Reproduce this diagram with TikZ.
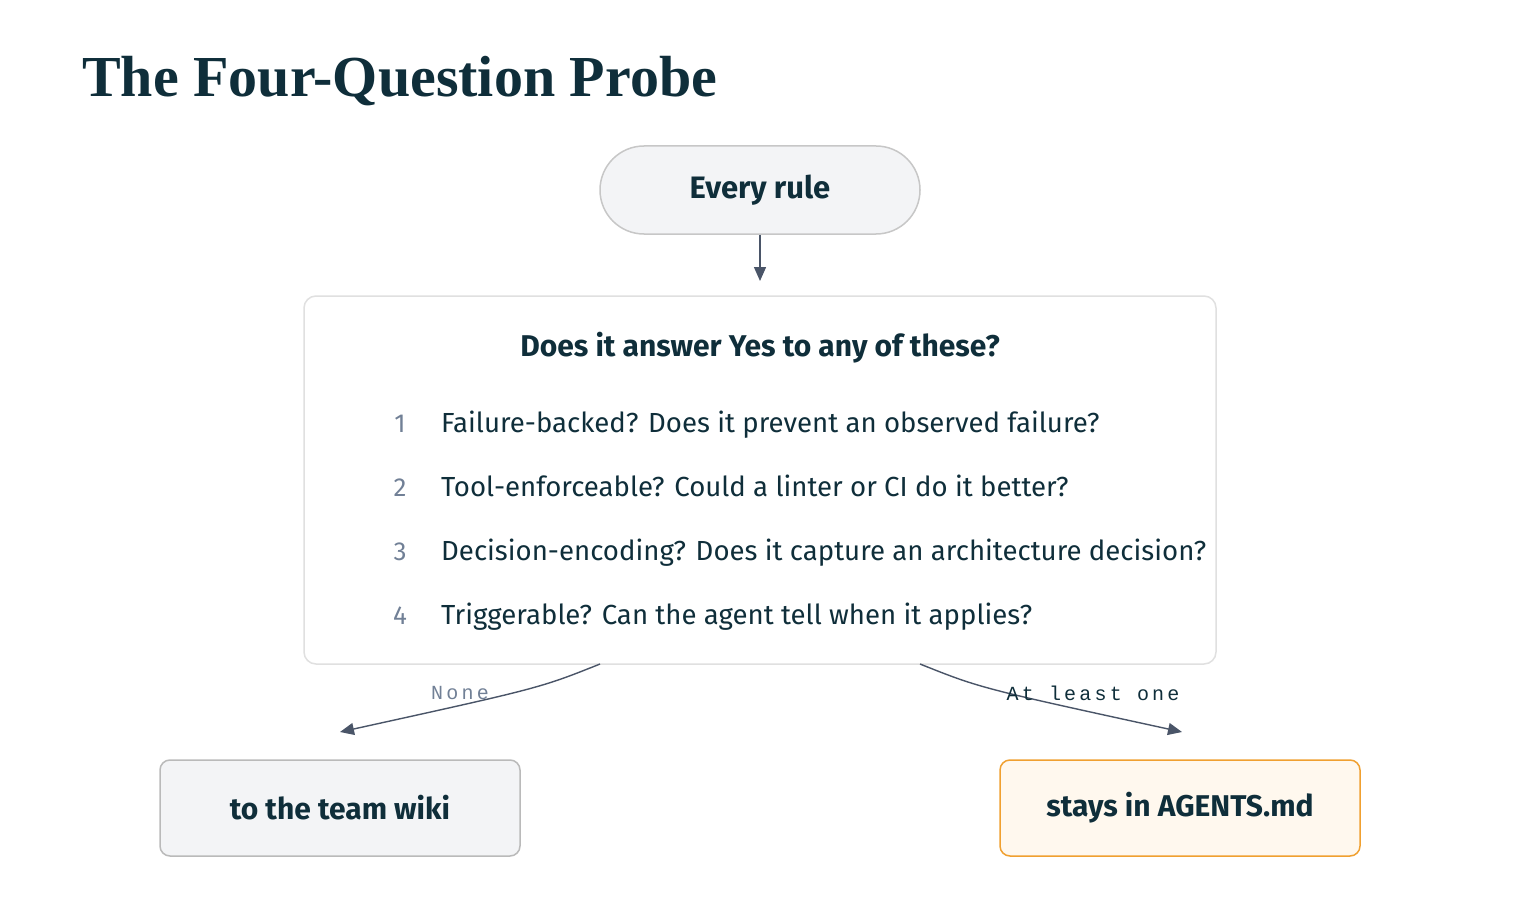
\documentclass[tikz,border=0pt]{standalone}
\usepackage{fontspec}
\setmainfont{Fira Sans}
\newfontfamily\titlefont{Liberation Serif}
\newfontfamily\monofont[LetterSpace=16]{Liberation Mono}
\usetikzlibrary{arrows.meta}
\definecolor{ink}{HTML}{0F2E3A}
\definecolor{arrowc}{HTML}{4A5568}
\definecolor{graytxt}{HTML}{718096}
\definecolor{pillfill}{HTML}{F3F4F6}
\definecolor{orangeb}{HTML}{F0A030}
\definecolor{orangef}{HTML}{FFF8EE}
\tikzset{
  x=1pt,y=-1pt,
  box/.style={draw,rounded corners=10pt,line width=1.5pt,minimum width=360pt,minimum height=96pt,font=\fontsize{30}{36}\selectfont\bfseries,text=ink},
  conn/.style={draw=arrowc,line width=1.4pt,-{Triangle[length=14pt,width=12pt]}},
  item/.style={anchor=base west,inner sep=0pt,font=\fontsize{27.6}{32}\selectfont,text=ink},
  num/.style={anchor=base,font=\fontsize{26}{32}\selectfont,text=graytxt},
}
\begin{document}
\begin{tikzpicture}
\useasboundingbox[fill=white] (0,0) rectangle (1520,904);
\node[anchor=base west,inner sep=0pt,font=\titlefont\fontsize{58}{64}\selectfont\bfseries,text=ink] (title) at (82,97) {The Four-Question Probe};
\node[draw=black!22,fill=pillfill,rounded corners=44pt,line width=1.5pt,minimum width=320pt,minimum height=88pt,font=\fontsize{31}{36}\selectfont\bfseries,text=ink] (every) at (760,190) {Every rule};
\node[draw=black!12,fill=white,rounded corners=12pt,line width=1.5pt,minimum width=912pt,minimum height=368pt] (probe) at (760,480) {};
\node[anchor=base,font=\fontsize{30}{36}\selectfont\bfseries,text=ink] (head) at (760,356) {Does it answer Yes to any of these?};
\foreach \n/\y/\t in {1/432/{Failure-backed? Does it prevent an observed failure?},2/496/{Tool-enforceable? Could a linter or CI do it better?},3/560/{Decision-encoding? Does it capture an architecture decision?},4/624/{Triggerable? Can the agent tell when it applies?}}{
  \node[num] (n\n) at (400,\y) {\n};
  \node[item] (t\n) at (441,\y) {\t};
}
\coordinate (in) at (760,281);
\draw[conn] (every.south) -- (in);
\node[box,draw=black!27,fill=pillfill] (wiki) at (340,808) {to the team wiki};
\node[box,draw=orangeb,fill=orangef] (agents) at (1180,808) {stays in AGENTS.md};
\coordinate (ls) at (600,664);
\coordinate (le) at (340,732);
\coordinate (rs) at (920,664);
\coordinate (re) at (1182,732);
\draw[conn] (ls) .. controls (540,688) .. (le);
\draw[conn] (rs) .. controls (980,688) .. (re);
\node[font=\monofont\fontsize{20}{24}\selectfont,text=graytxt] (none) at (460,693) {None};
\node[font=\monofont\fontsize{20}{24}\selectfont,text=ink] (one) at (1093,693) {At least one};
\end{tikzpicture}
\end{document}
